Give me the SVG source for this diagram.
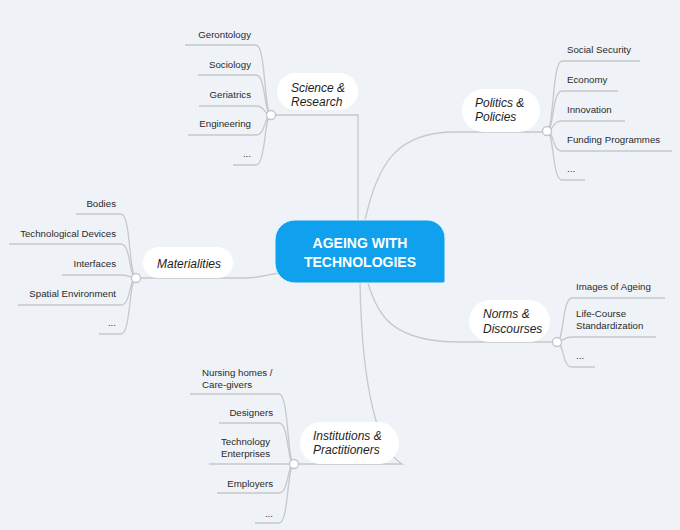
<svg xmlns="http://www.w3.org/2000/svg" width="680" height="530" viewBox="0 0 680 530">
<style>
.bg{fill:#eff3f7}
.ln{fill:none;stroke:#c6c9cc;stroke-width:1.3}
.pill{fill:#ffffff}
.dot{fill:#ffffff;stroke:#c2c5c8;stroke-width:1.3}
.mt{font-family:"Liberation Sans",Arial,sans-serif;font-style:italic;font-size:12px;fill:#1e1e1e}
.ch{font-family:"Liberation Sans",Arial,sans-serif;font-size:9.7px;fill:#2a2a2a}
.ct{font-family:"Liberation Sans",Arial,sans-serif;font-weight:bold;font-size:14px;fill:#ffffff}
.e{text-anchor:end}
</style>
<rect class="bg" x="0" y="0" width="680" height="530"/>
<g id="connectors">
<path class="ln" d="M358,220 V115 H271"/>
<path class="ln" d="M365,220 C378,165 395,132 455,132 H547"/>
<path class="ln" d="M136,278 H245 C262,278 268,274 280,273"/>
<path class="ln" d="M368,283 C378,318 395,342 460,342 H557"/>
<path class="ln" d="M360,283 C362,390 378,450 402,464 H294"/>
<path class="ln" d="M271,115 C264,115 266,45 256,45 H185"/>
<path class="ln" d="M271,115 C264,115 266,75 256,75 H198"/>
<path class="ln" d="M271,115 C264,115 266,106 256,106 H199"/>
<path class="ln" d="M271,115 C264,115 266,135 256,135 H188"/>
<path class="ln" d="M271,115 C264,115 266,165 256,165 H233"/>
<path class="ln" d="M547,131 C554,131 552,61 562,61 H640"/>
<path class="ln" d="M547,131 C554,131 552,91 562,91 H618"/>
<path class="ln" d="M547,131 C554,131 552,121 562,121 H625"/>
<path class="ln" d="M547,131 C554,131 552,151 562,151 H672"/>
<path class="ln" d="M547,131 C554,131 552,180 562,180 H585"/>
<path class="ln" d="M136,278 C129,278 131,214 121,214 H76"/>
<path class="ln" d="M136,278 C129,278 131,244 121,244 H9"/>
<path class="ln" d="M136,278 C129,278 131,275 121,275 H62"/>
<path class="ln" d="M136,278 C129,278 131,305 121,305 H18"/>
<path class="ln" d="M136,278 C129,278 131,334 121,334 H99"/>
<path class="ln" d="M557,342 C564,342 562,298 572,298 H665"/>
<path class="ln" d="M557,342 C564,342 562,337 572,337 H656"/>
<path class="ln" d="M557,342 C564,342 562,367 572,367 H595"/>
<path class="ln" d="M294,464 C287,464 289,394 279,394 H190"/>
<path class="ln" d="M294,464 C287,464 289,423 279,423 H219"/>
<path class="ln" d="M294,464 H209"/>
<path class="ln" d="M294,464 C287,464 289,493 279,493 H217"/>
<path class="ln" d="M294,464 C287,464 289,523 279,523 H255"/>
</g>
<g id="center">
<path d="M295,220 H427 A18,18 0 0 1 445,238 V281 A2,2 0 0 1 443,283 H295 A20,20 0 0 1 275,263 V240 A20,20 0 0 1 295,220 Z" fill="#10a1ee" stroke="#e6f4fc" stroke-width="1"/>
<text class="ct" x="360" y="248" text-anchor="middle">AGEING WITH</text>
<text class="ct" x="360" y="267" text-anchor="middle">TECHNOLOGIES</text>
</g>
<g id="science">
<rect class="pill" x="277" y="73" width="81" height="37" rx="18.5"/>
<text class="mt" x="291" y="92">Science &amp;</text>
<text class="mt" x="291" y="106">Research</text>
<circle class="dot" cx="271" cy="115" r="4.5"/>
</g>
<g id="science-children">
<text class="ch e" x="251" y="38">Gerontology</text>
<text class="ch e" x="251" y="68">Sociology</text>
<text class="ch e" x="251" y="98">Geriatrics</text>
<text class="ch e" x="251" y="127">Engineering</text>
<text class="ch e" x="251" y="157">...</text>
</g>
<g id="politics">
<rect class="pill" x="462" y="89" width="78" height="43" rx="21.5"/>
<text class="mt" x="475" y="107">Politics &amp;</text>
<text class="mt" x="475" y="121">Policies</text>
<circle class="dot" cx="547" cy="131" r="4.5"/>
</g>
<g id="politics-children">
<text class="ch" x="567" y="53">Social Security</text>
<text class="ch" x="567" y="83">Economy</text>
<text class="ch" x="567" y="113">Innovation</text>
<text class="ch" x="567" y="143">Funding Programmes</text>
<text class="ch" x="567" y="172">...</text>
</g>
<g id="materialities">
<rect class="pill" x="143" y="247" width="90" height="31" rx="15.5"/>
<text class="mt" x="157" y="268">Materialities</text>
<circle class="dot" cx="136" cy="278" r="4.5"/>
</g>
<g id="materialities-children">
<text class="ch e" x="116" y="207">Bodies</text>
<text class="ch e" x="116" y="237">Technological Devices</text>
<text class="ch e" x="116" y="267">Interfaces</text>
<text class="ch e" x="116" y="297">Spatial Environment</text>
<text class="ch e" x="116" y="326">...</text>
</g>
<g id="norms">
<rect class="pill" x="469" y="300" width="81" height="42" rx="21"/>
<text class="mt" x="483" y="318">Norms &amp;</text>
<text class="mt" x="483" y="333">Discourses</text>
<circle class="dot" cx="557" cy="342" r="4.5"/>
</g>
<g id="norms-children">
<text class="ch" x="576" y="290">Images of Ageing</text>
<text class="ch" x="576" y="317">Life-Course</text>
<text class="ch" x="576" y="329">Standardization</text>
<text class="ch" x="576" y="359">...</text>
</g>
<g id="institutions">
<rect class="pill" x="300" y="422" width="99" height="42" rx="21"/>
<text class="mt" x="313" y="440">Institutions &amp;</text>
<text class="mt" x="313" y="454">Practitioners</text>
<circle class="dot" cx="294" cy="464" r="4.5"/>
</g>
<g id="institutions-children">
<text class="ch" x="202" y="376">Nursing homes /</text>
<text class="ch" x="202" y="388">Care-givers</text>
<text class="ch e" x="273" y="416">Designers</text>
<text class="ch" x="221" y="445">Technology</text>
<text class="ch" x="221" y="457">Enterprises</text>
<text class="ch e" x="273" y="487">Employers</text>
<text class="ch e" x="273" y="517">...</text>
</g>
</svg>
